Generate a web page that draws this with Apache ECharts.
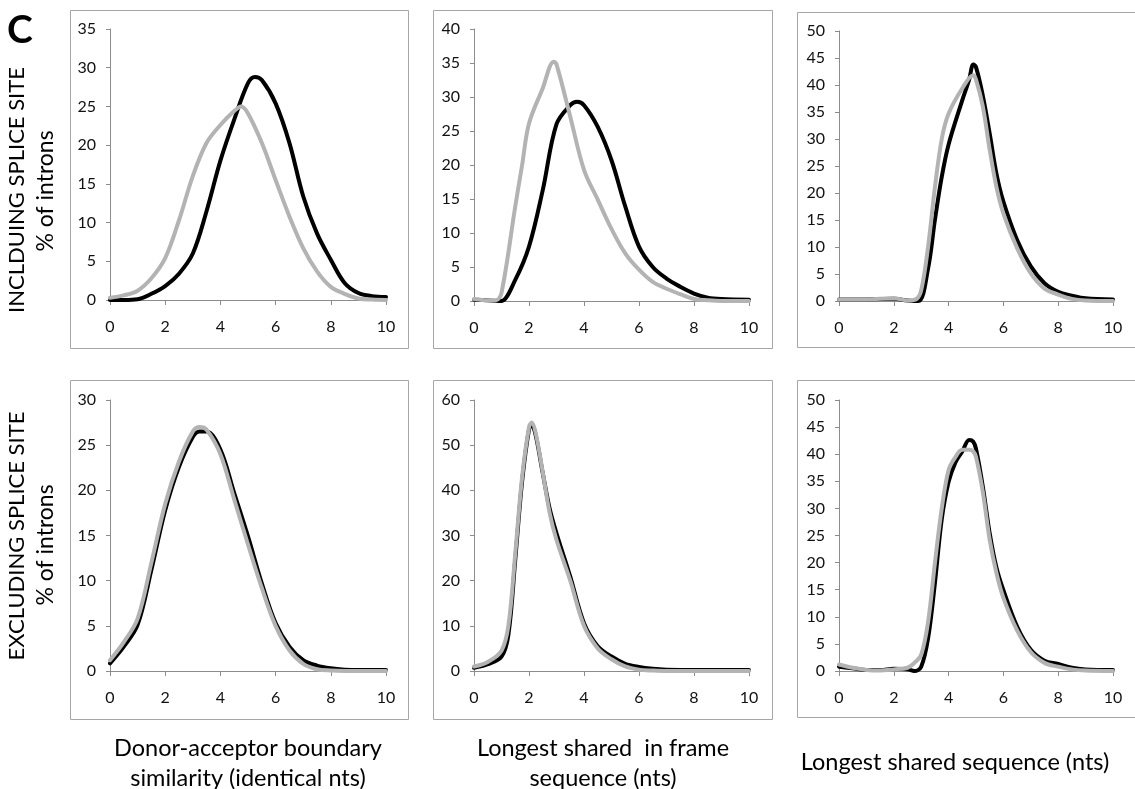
<!DOCTYPE html>
<html>
<head>
<meta charset="utf-8">
<script src="https://cdn.jsdelivr.net/npm/echarts@6/dist/echarts.min.js"></script>
<style>
html,body{margin:0;padding:0;background:#fff;}
#chart{width:1135px;height:789px;}
</style>
</head>
<body>
<div id="chart"></div>
<script>
// ---------- DATA ----------
// Panel 1: including splice site, donor-acceptor boundary similarity
const p1BlackX = [0,0.5,1,1.5,2,2.5,3,3.5,4,4.5,5,5.25,5.5,6,6.5,7,7.5,8,8.5,9,9.5,10];
const p1BlackY = [0,0,0.1,0.8,1.8,3.4,6,11.5,18,23.3,28,28.8,28.4,25.4,20.3,13.4,8.6,5.2,2.2,0.9,0.5,0.4];
const p1GrayX  = [0,0.5,1,1.5,2,2.5,3,3.5,4,4.5,4.75,5,5.5,6,6.5,7,7.5,8,8.5,9,9.5,10];
const p1GrayY  = [0.3,0.6,1.2,2.8,5.4,10.3,16,20.3,22.6,24.4,25,24.1,20.3,15.5,10.8,6.7,3.7,1.7,0.8,0.2,0.05,0];

// Panel 2: including splice site, longest shared in-frame sequence
const p2BlackX = [0,0.5,0.9,1,1.5,2,2.5,3,3.5,3.75,4,4.5,5,5.5,6,6.5,7,7.5,8,8.5,9,10];
const p2BlackY = [0.2,0.1,0,0,3.1,8,16.3,26,28.8,29.3,28.8,25.6,20.7,13.9,8,5,3.3,2.1,1.1,0.5,0.3,0.2];
const p2GrayX  = [0,0.5,0.8,1,1.5,1.75,2,2.5,2.9,3,3.5,4,4.5,5,5.5,6,6.5,7,7.5,8,8.5,9,10];
const p2GrayY  = [0.3,0.1,0.1,1.2,13.9,20,26.1,31.3,35.2,34.8,27.1,19.3,14.9,10.6,7,4.6,2.8,1.8,1,0.3,0.1,0,0];

// Panel 3: including splice site, longest shared sequence
const p3BlackX = [0,1,2,2.5,2.9,3.25,3.5,3.75,4,4.5,4.75,4.9,5,5.25,5.5,5.75,6,6.5,7,7.5,8,8.5,9,10];
const p3BlackY = [0.3,0.3,0.4,0.1,0,6,15,23,29,37.2,41,43.8,43.3,38,31,23.5,18.4,11.3,6.4,3.3,1.7,1,0.5,0.3];
const p3GrayX  = [0,1,2,2.5,2.8,3,3.25,3.5,3.75,4,4.5,4.9,5,5.25,5.5,5.75,6,6.5,7,7.5,8,8.5,9,10];
const p3GrayY  = [0.3,0.3,0.5,0.1,0.3,2,10,21,30,34.7,39.4,41.8,41,36,28,21,16.2,9.8,5.1,2.3,1.2,0.4,0.1,0];

// Panel 4: excluding splice site, donor-acceptor boundary similarity
const p4X      = [0,0.5,1,1.5,2,2.5,3,3.25,3.5,4,4.5,5,5.5,6,6.5,7,7.5,8,8.5,9,10];
const p4BlackY = [0.85,2.7,5.1,11.2,17.8,22.6,25.9,26.5,26.5,24.5,19.7,14.9,9.7,5.3,2.7,1.2,0.6,0.3,0.15,0.1,0.1];
const p4GrayY  = [1.2,3.2,5.8,12,18.5,23.2,26.5,27,26.7,24,19,14,9.2,5,2.3,0.8,0.2,0.05,0,0,0];

// Panel 5: excluding splice site, longest shared in-frame sequence
const p5X      = [0,0.5,1,1.25,1.5,1.75,2,2.1,2.25,2.5,2.75,3,3.5,4,4.5,5,5.5,6,6.5,7,8,10];
const p5BlackY = [0.7,1.5,3.2,8,24.6,42,53.5,54.5,52,43.8,36,30.5,20.9,10.6,5.5,3.2,1.6,0.9,0.5,0.3,0.2,0.2];
const p5GrayY  = [1,2,4.5,10,26,43,54,55,52.5,44,35,29,20,10,5,2.6,1,0.3,0.1,0,0,0];

// Panel 6: excluding splice site, longest shared sequence
const p6X      = [0,0.5,1,1.5,2,2.5,2.75,3,3.25,3.5,3.75,4,4.25,4.5,4.75,4.9,5,5.25,5.5,5.75,6,6.5,7,7.5,8,8.5,9,10];
const p6BlackY = [0.8,0.5,0.2,0.2,0.4,0.3,0,0.8,6,16.2,28,34.9,38.5,40.5,42.6,42.3,41,34,25.4,19,14.9,8.2,3.9,1.9,1.3,0.6,0.3,0.2];
const p6GrayY  = [1.2,0.6,0.2,0.1,0.3,0.6,1.5,3,9,19.9,30,37.1,39.5,40.8,40.8,40.5,39.5,33,24.2,18,13.5,7.5,3.5,1.5,0.8,0.3,0.1,0];

// Axis settings
const yMax = [35, 40, 50, 30, 60, 50];
const yStep = [5, 5, 5, 5, 10, 5];
const xMax = 10, xStep = 2;

// Texts
const panelLetter = 'C';
const rowLabels = ['INCLDUING SPLICE SITE', 'EXCLUDING SPLICE SITE'];
const yAxisName = '% of introns';
const colTitles = [
  ['Donor-acceptor boundary', 'similarity (identical nts)'],
  ['Longest shared  in frame', 'sequence (nts)'],
  ['Longest shared sequence (nts)']
];

// ---------- CHART ----------
const FONT = 'Lato, "Open Sans", sans-serif';
const BLACK = '#000000', GRAY = '#b3b3b3';
const AXIS_C = '#8c8c8c', BOX_C = '#a6a6a6';

const grids = [
  {left:110, top:29, width:276, height:271},
  {left:474, top:29, width:275, height:272},
  {left:839, top:31, width:274, height:270},
  {left:110, top:400, width:276, height:271},
  {left:474, top:400, width:275, height:271},
  {left:839, top:400, width:274, height:271}
];
const boxes = [
  [70,10,338,338],[433,10,339,338],[797,12,340,335],
  [70,380,338,339],[433,380,339,339],[797,380,340,337]
];

const pairs = (xs, ys) => xs.map((x, i) => [x, ys[i]]);
const seriesData = [
  [pairs(p1BlackX,p1BlackY), pairs(p1GrayX,p1GrayY)],
  [pairs(p2BlackX,p2BlackY), pairs(p2GrayX,p2GrayY)],
  [pairs(p3BlackX,p3BlackY), pairs(p3GrayX,p3GrayY)],
  [pairs(p4X,p4BlackY), pairs(p4X,p4GrayY)],
  [pairs(p5X,p5BlackY), pairs(p5X,p5GrayY)],
  [pairs(p6X,p6BlackY), pairs(p6X,p6GrayY)]
];

const xAxis = [], yAxis = [], series = [];
grids.forEach((g, i) => {
  xAxis.push({
    type:'value', gridIndex:i, min:0, max:xMax, interval:xStep,
    axisLine:{show:true, onZero:false, lineStyle:{color:AXIS_C, width:1}},
    axisTick:{show:true, inside:false, length:5, lineStyle:{color:AXIS_C}},
    axisLabel:{color:'#111', fontFamily:FONT, fontSize:16, margin:19},
    splitLine:{show:false}
  });
  yAxis.push({
    type:'value', gridIndex:i, min:0, max:yMax[i], interval:yStep[i],
    axisLine:{show:true, lineStyle:{color:AXIS_C, width:1}},
    axisTick:{show:true, inside:false, length:4, lineStyle:{color:AXIS_C}},
    axisLabel:{color:'#111', fontFamily:FONT, fontSize:16, margin:14},
    splitLine:{show:false}
  });
  [BLACK, GRAY].forEach((c, k) => {
    series.push({
      type:'line', xAxisIndex:i, yAxisIndex:i, data:seriesData[i][k],
      smooth:0.35, showSymbol:false, symbol:'none', clip:true,
      lineStyle:{color:c, width:4, cap:'round', join:'round'},
      z: 2 + k, silent:true
    });
  });
});

const graphic = [];
boxes.forEach(b => {
  graphic.push({type:'rect', shape:{x:b[0]+0.5, y:b[1]+0.5, width:b[2], height:b[3]},
    style:{fill:null, stroke:BOX_C, lineWidth:1}, z:-1, silent:true});
});
graphic.push({type:'text', x:7, y:11, style:{text:panelLetter, fontFamily:FONT, fontWeight:'bold', fontSize:39, fill:'#000'}});
const rowCenters = [190, 536];
rowLabels.forEach((t, r) => {
  graphic.push({type:'text', x:17, y:rowCenters[r], rotation:Math.PI/2,
    style:{text:t, fontFamily:FONT, fontSize:22, fill:'#000', align:'center', verticalAlign:'middle'}});
  graphic.push({type:'text', x:46, y:rowCenters[r] + (r ? 9 : 1), rotation:Math.PI/2,
    style:{text:yAxisName, fontFamily:FONT, fontSize:23, fill:'#000', align:'center', verticalAlign:'middle'}});
});
const colCenters = [248, 603, 955];
colTitles.forEach((lines, c) => {
  if (lines.length === 2) {
    lines.forEach((t, j) => graphic.push({type:'text', x:colCenters[c], y:748 + j*30,
      style:{text:t, fontFamily:FONT, fontSize:23.5, fill:'#000', align:'center', verticalAlign:'middle'}}));
  } else {
    graphic.push({type:'text', x:colCenters[c], y:762,
      style:{text:lines[0], fontFamily:FONT, fontSize:23.5, fill:'#000', align:'center', verticalAlign:'middle'}});
  }
});

const chart = echarts.init(document.getElementById('chart'), null, {renderer:'canvas'});
chart.setOption({
  animation:false,
  backgroundColor:'#ffffff',
  grid: grids.map(g => Object.assign({containLabel:false}, g)),
  xAxis, yAxis, series, graphic
});
</script>
</body>
</html>
